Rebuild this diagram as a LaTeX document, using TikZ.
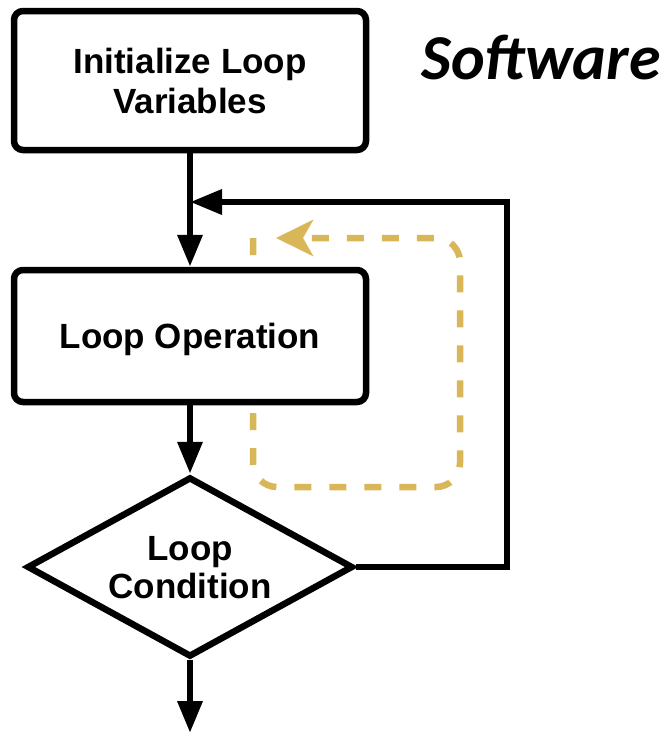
\documentclass[tikz,border=0pt]{standalone}
\usepackage{fontspec}
\setmainfont{Liberation Sans}
\newfontfamily\swfont{Carlito}
\usetikzlibrary{arrows.meta,shapes.geometric}
\definecolor{gold}{RGB}{217,183,88}
\tikzset{
  box/.style={draw=black, fill=white, line width=6.5pt, rounded corners=9pt, minimum width=352pt, inner sep=0pt, align=center, text depth=0pt, font=\fontsize{35}{40}\selectfont\bfseries},
  cond/.style={draw=black, fill=white, line width=6.5pt, shape=diamond, shape aspect=1.811, minimum width=326pt, minimum height=180pt, inner sep=0pt, align=center, text depth=0pt, font=\fontsize{35}{38}\selectfont\bfseries},
  arr/.style={line width=6.5pt, -{Triangle[length=32pt,width=24pt]}},
  goldloop/.style={draw=gold, line width=6.5pt, dash pattern=on 17pt off 18pt, rounded corners=24pt, -{Stealth[length=37pt,width=36pt,inset=10pt]}},
}
\begin{document}
\begin{tikzpicture}[x=1pt,y=-1pt]
\useasboundingbox (0,0) rectangle (667,734);
\coordinate (join) at (190,202);
\coordinate (fbR) at (507,202);
\coordinate (exit) at (190,733);
\coordinate (gs) at (253,238);
\coordinate (gBL) at (253,487);
\coordinate (gBR) at (460,487);
\coordinate (gTR) at (460,238);
\coordinate (gEnd) at (276,238);
\draw[goldloop] (gs) -- (gBL) -- (gBR) -- (gTR) -- (gEnd);
\node[box, minimum height=139pt] (init) at (190,80.5) {Initialize Loop\\Variables};
\node[box, minimum height=132pt] (op) at (190,336) {Loop Operation};
\node[cond] (cnd) at (190,567) {Loop\\Condition};
\node[anchor=base east, font=\swfont\fontsize{64}{70}\selectfont\bfseries\itshape, inner sep=0pt] (sw) at (661,79) {Software};
\draw[arr] (init.south) -- (op.north);
\draw[arr] (op.south) -- (cnd.north);
\draw[arr] (cnd.south) -- (exit);
\draw[arr] (cnd.east) -| (fbR) -- (join);
\end{tikzpicture}
\end{document}
